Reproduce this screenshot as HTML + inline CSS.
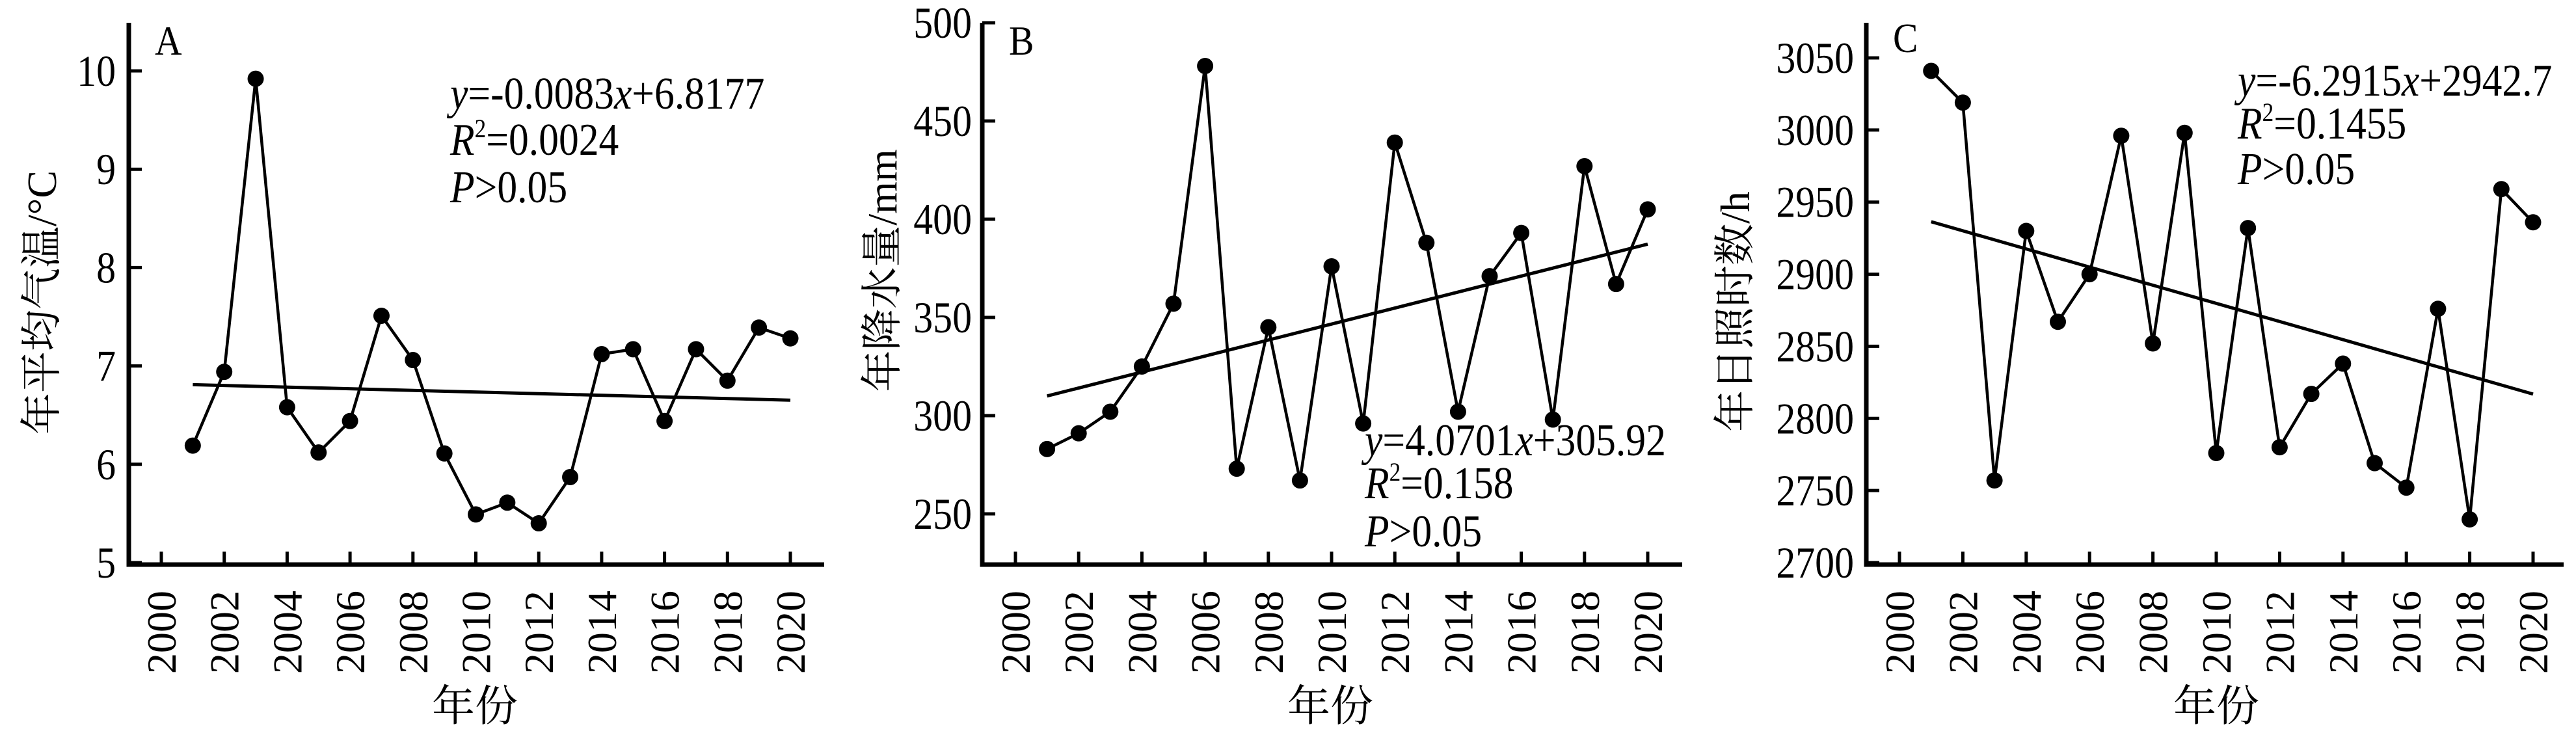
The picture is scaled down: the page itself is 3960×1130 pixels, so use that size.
<!DOCTYPE html>
<html><head><meta charset="utf-8"><style>
html,body{margin:0;padding:0;background:#fff;overflow:hidden;}
svg, svg text{font-family:"Liberation Serif","Noto Serif CJK SC","Noto Sans CJK SC",serif;}
svg{display:block;}
</style></head><body>
<svg id="chart" width="3960" height="1130" viewBox="0 0 3960 1130" xmlns="http://www.w3.org/2000/svg" font-family="Liberation Serif, Noto Serif CJK SC, serif"></svg>
<script>
const years = [2001,2002,2003,2004,2005,2006,2007,2008,2009,2010,2011,2012,2013,2014,2015,2016,2017,2018,2019,2020];
const xTickLabels = ["2000","2002","2004","2006","2008","2010","2012","2014","2016","2018","2020"];
const tempValues = [6.19,6.94,9.92,6.58,6.12,6.44,7.51,7.06,6.11,5.49,5.61,5.40,5.87,7.12,7.17,6.44,7.17,6.85,7.39,7.28];
const precipValues = [283,291,302,325,357,478,273,345,267,376,296,439,388,302,371,393,298,427,367,405];
const sunValues = [3041,3019,2757,2930,2867,2900,2996,2852,2998,2776,2932,2780,2817,2838,2769,2752,2876,2730,2959,2936];
const tempTicks = [5,6,7,8,9,10];
const precipTicks = [250,300,350,400,450,500];
const sunTicks = [2700,2750,2800,2850,2900,2950,3000,3050];
const tempFit = [-0.0083, 6.8177];
const precipFit = [4.0701, 305.92];
const sunFit = [-6.2915, 2942.7];

const NS = "http://www.w3.org/2000/svg";
const FONT = "'Liberation Serif', 'Noto Serif CJK SC', serif";
const svg = document.getElementById('chart');
function el(tag, attrs, parent, text){
  const e = document.createElementNS(NS, tag);
  for (const k in attrs) e.setAttribute(k, attrs[k]);
  if (tag === 'text') e.setAttribute('font-family', FONT);
  if (text !== undefined) e.textContent = text;
  (parent||svg).appendChild(e);
  return e;
}

const panels = [
  {id:'a', letter:'A', values:tempValues, ticks:tempTicks, fit:tempFit,
   ax:198, axRight:1267, top:35, bottom:868, x2000:248, x2020:1215,
   ytop:109, yTopVal:10, ybot:865, yBotVal:5, tickLabelX:178,
   title:'年平均气温/°C', titleX:64, titleY:465, xTitleX:730,
   letterX:238, letterY:84,
   eq:['y','=-0.0083','x','+6.8177'], r2:'0.0024', eqX:692, eqY:[167,238,311]},
  {id:'b', letter:'B', values:precipValues, ticks:precipTicks, fit:precipFit,
   ax:1510, axRight:2586, top:35, bottom:868, x2000:1561, x2020:2533,
   ytop:35, yTopVal:500, ybot:790, yBotVal:250, tickLabelX:1494,
   title:'年降水量/mm', titleX:1356, titleY:416, xTitleX:2045,
   letterX:1551, letterY:84,
   eq:['y','=4.0701','x','+305.92'], r2:'0.158', eqX:2098, eqY:[700,766,840]},
  {id:'c', letter:'C', values:sunValues, ticks:sunTicks, fit:sunFit,
   ax:2869, axRight:3941, top:35, bottom:868, x2000:2920, x2020:3894,
   ytop:89, yTopVal:3050, ybot:865, yBotVal:2700, tickLabelX:2850,
   title:'年日照时数/h', titleX:2667, titleY:479, xTitleX:3407,
   letterX:2910, letterY:80,
   eq:['y','=-6.2915','x','+2942.7'], r2:'0.1455', eqX:3440, eqY:[147,213,283]}
];

panels.forEach(p => {
  const g = el('g', {});
  
  
  const xs = yr => p.x2000 + (yr - 2000) * (p.x2020 - p.x2000) / 20;
  const ys = v => p.ytop + (p.yTopVal - v) * (p.ybot - p.ytop) / (p.yTopVal - p.yBotVal);

  const axes = el('path', {d:`M${p.ax},${p.top} L${p.ax},${p.bottom} L${p.axRight},${p.bottom}`, fill:'none', stroke:'#000', 'stroke-width':7}, g);
  
  

  p.ticks.forEach(t => {
    const y = ys(t);
    el('line', {x1:p.ax, x2:p.ax+20, y1:y, y2:y, stroke:'#000', 'stroke-width':5}, g);
    const tl = el('text', {x:0, y:0, 'font-size':68, 'text-anchor':'end', transform:`translate(${p.tickLabelX},${y+23}) scale(0.88,1)`}, g, String(t));
    
    
  });
  xTickLabels.forEach(lab => {
    const x = xs(+lab);
    el('line', {x1:x, x2:x, y1:p.bottom, y2:p.bottom-20, stroke:'#000', 'stroke-width':5}, g);
    const tl = el('text', {x:0, y:0, 'font-size':64, 'text-anchor':'end', transform:`translate(${x+22},${p.bottom+40}) rotate(-90)`}, g, lab);
    
    
  });

  const f0 = p.fit[1] + p.fit[0]*1, f1 = p.fit[1] + p.fit[0]*20;
  const tr = el('line', {x1:xs(years[0]), y1:ys(f0), x2:xs(years[years.length-1]), y2:ys(f1), stroke:'#000', 'stroke-width':5}, g);
  
  

  const pts = years.map((yr,i) => `${xs(yr)},${ys(p.values[i])}`).join(' ');
  const ln = el('polyline', {points:pts, fill:'none', stroke:'#000', 'stroke-width':4.5, 'stroke-linejoin':'round'}, g);
  
  
  years.forEach((yr,i) => {
    const c = el('circle', {cx:xs(yr), cy:ys(p.values[i]), r:12.5, fill:'#000'}, g);
    
    
  });

  const L = el('text', {x:0, y:0, 'font-size':64, transform:`translate(${p.letterX},${p.letterY}) scale(0.9,1)`}, g, p.letter);
  
  

  const tf = y => `translate(${p.eqX},${y}) scale(0.88,1)`;
  const e1 = el('text', {x:0, y:0, 'font-size':70, transform:tf(p.eqY[0])}, g);
  
  
  el('tspan', {'font-style':'italic'}, e1, p.eq[0]);
  el('tspan', {}, e1, p.eq[1]);
  el('tspan', {'font-style':'italic'}, e1, p.eq[2]);
  el('tspan', {}, e1, p.eq[3]);
  const e2 = el('text', {x:0, y:0, 'font-size':70, transform:tf(p.eqY[1])}, g);
  
  
  el('tspan', {'font-style':'italic'}, e2, 'R');
  el('tspan', {'font-size':40, dy:-27}, e2, '2');
  el('tspan', {dy:27}, e2, '=' + p.r2);
  const e3 = el('text', {x:0, y:0, 'font-size':70, transform:tf(p.eqY[2])}, g);
  
  
  el('tspan', {'font-style':'italic'}, e3, 'P');
  el('tspan', {}, e3, '>0.05');

  const yt = el('text', {x:0, y:0, 'font-size':64, 'text-anchor':'middle', transform:`translate(${p.titleX+22},${p.titleY}) rotate(-90)`}, g, p.title);
  
  
  const xt = el('text', {x:p.xTitleX, y:1108, 'font-size':66, 'text-anchor':'middle'}, g, '年份');
  
  
});
</script>
</body></html>
